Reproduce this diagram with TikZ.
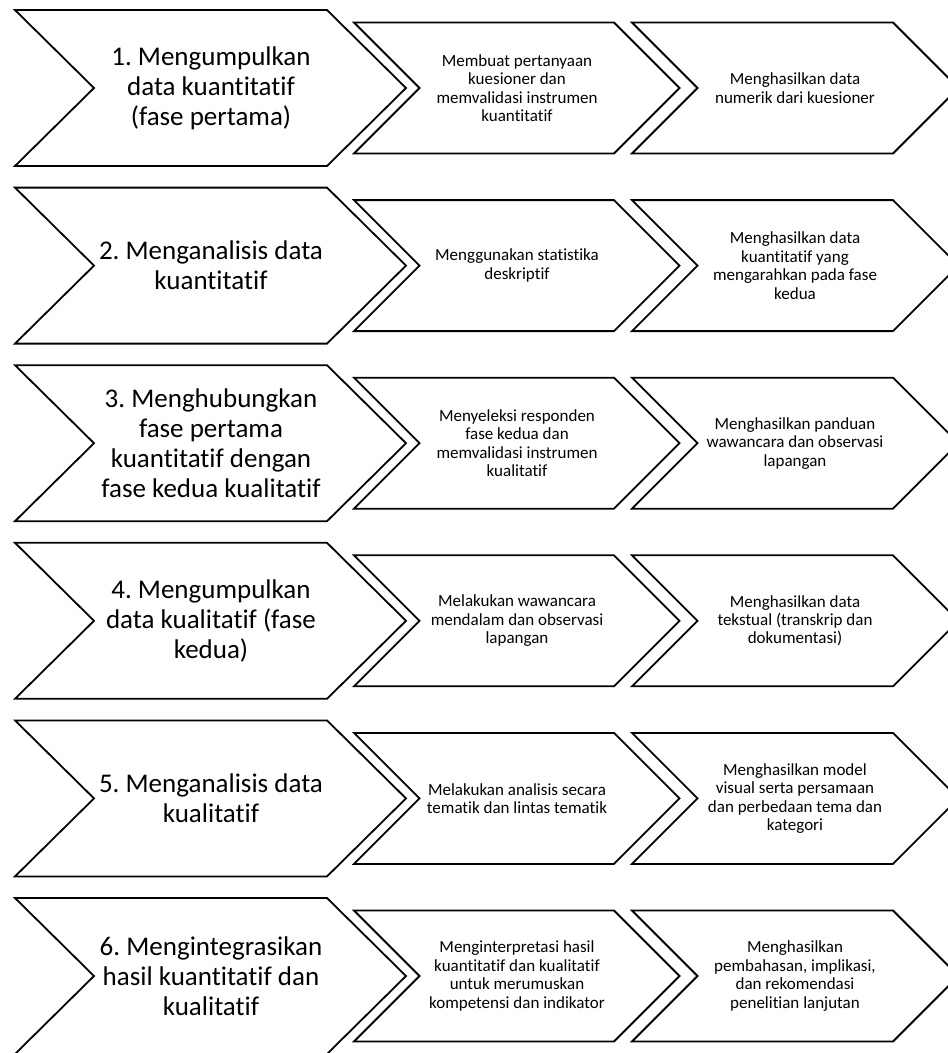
\documentclass[tikz,border=0pt]{standalone}
\usepackage{fontspec}
\setmainfont{Carlito}[Ligatures={NoCommon,NoContextual},RawFeature={-liga;-clig;-calt;-dlig}]
\frenchspacing
\tikzset{
  chev/.style={draw=black, line width=1.8pt, fill=white, line join=miter},
  bigtxt/.style={align=center, inner sep=0pt, font=\fontsize{27}{30}\selectfont},
  smalltxt/.style={align=center, inner sep=0pt, font=\fontsize{17}{18.4}\selectfont}
}
\newcommand\chevrow[4]{%
  \pgfmathsetmacro\cy{88+177.6*#1}%
  % big chevron
  \draw[chev] (15,\cy-78) -- (327,\cy-78) -- (406,\cy) -- (327,\cy+78) -- (15,\cy+78) -- (94,\cy) -- cycle;
  % small chevrons
  \draw[chev] (354,\cy-65.5) -- (614,\cy-65.5) -- (679.5,\cy) -- (614,\cy+65.5) -- (354,\cy+65.5) -- (419.5,\cy) -- cycle;
  \draw[chev] (632,\cy-65.5) -- (893,\cy-65.5) -- (958.5,\cy) -- (893,\cy+65.5) -- (632,\cy+65.5) -- (697.5,\cy) -- cycle;
  \node[bigtxt] (big#1) at (211,\cy) {#2};
  \node[smalltxt] (a#1) at (517,\cy) {#3};
  \node[smalltxt] (b#1) at (795,\cy) {#4};
}
\begin{document}
\begin{tikzpicture}[x=1pt,y=-1pt]
\useasboundingbox (0,0) rectangle (948,1053);
\fill[white] (0,0) rectangle (948,1053);
\chevrow{0}{1. Mengumpulkan\\data kuantitatif\\(fase pertama)}{Membuat pertanyaan\\kuesioner dan\\memvalidasi instrumen\\kuantitatif}{Menghasilkan data\\numerik dari kuesioner}
\chevrow{1}{2. Menganalisis data\\kuantitatif}{Menggunakan statistika\\deskriptif}{Menghasilkan data\\kuantitatif yang\\mengarahkan pada fase\\kedua}
\chevrow{2}{3. Menghubungkan\\fase pertama\\kuantitatif dengan\\fase kedua kualitatif}{Menyeleksi responden\\fase kedua dan\\memvalidasi instrumen\\kualitatif}{Menghasilkan panduan\\wawancara dan observasi\\lapangan}
\chevrow{3}{4. Mengumpulkan\\data kualitatif (fase\\kedua)}{Melakukan wawancara\\mendalam dan observasi\\lapangan}{Menghasilkan data\\tekstual (transkrip dan\\dokumentasi)}
\chevrow{4}{5. Menganalisis data\\kualitatif}{Melakukan analisis secara\\tematik dan lintas tematik}{Menghasilkan model\\visual serta persamaan\\dan perbedaan tema dan\\kategori}
\chevrow{5}{6. Mengintegrasikan\\hasil kuantitatif dan\\kualitatif}{Menginterpretasi hasil\\kuantitatif dan kualitatif\\untuk merumuskan\\kompetensi dan indikator}{Menghasilkan\\pembahasan, implikasi,\\dan rekomendasi\\penelitian lanjutan}
\end{tikzpicture}
\end{document}
